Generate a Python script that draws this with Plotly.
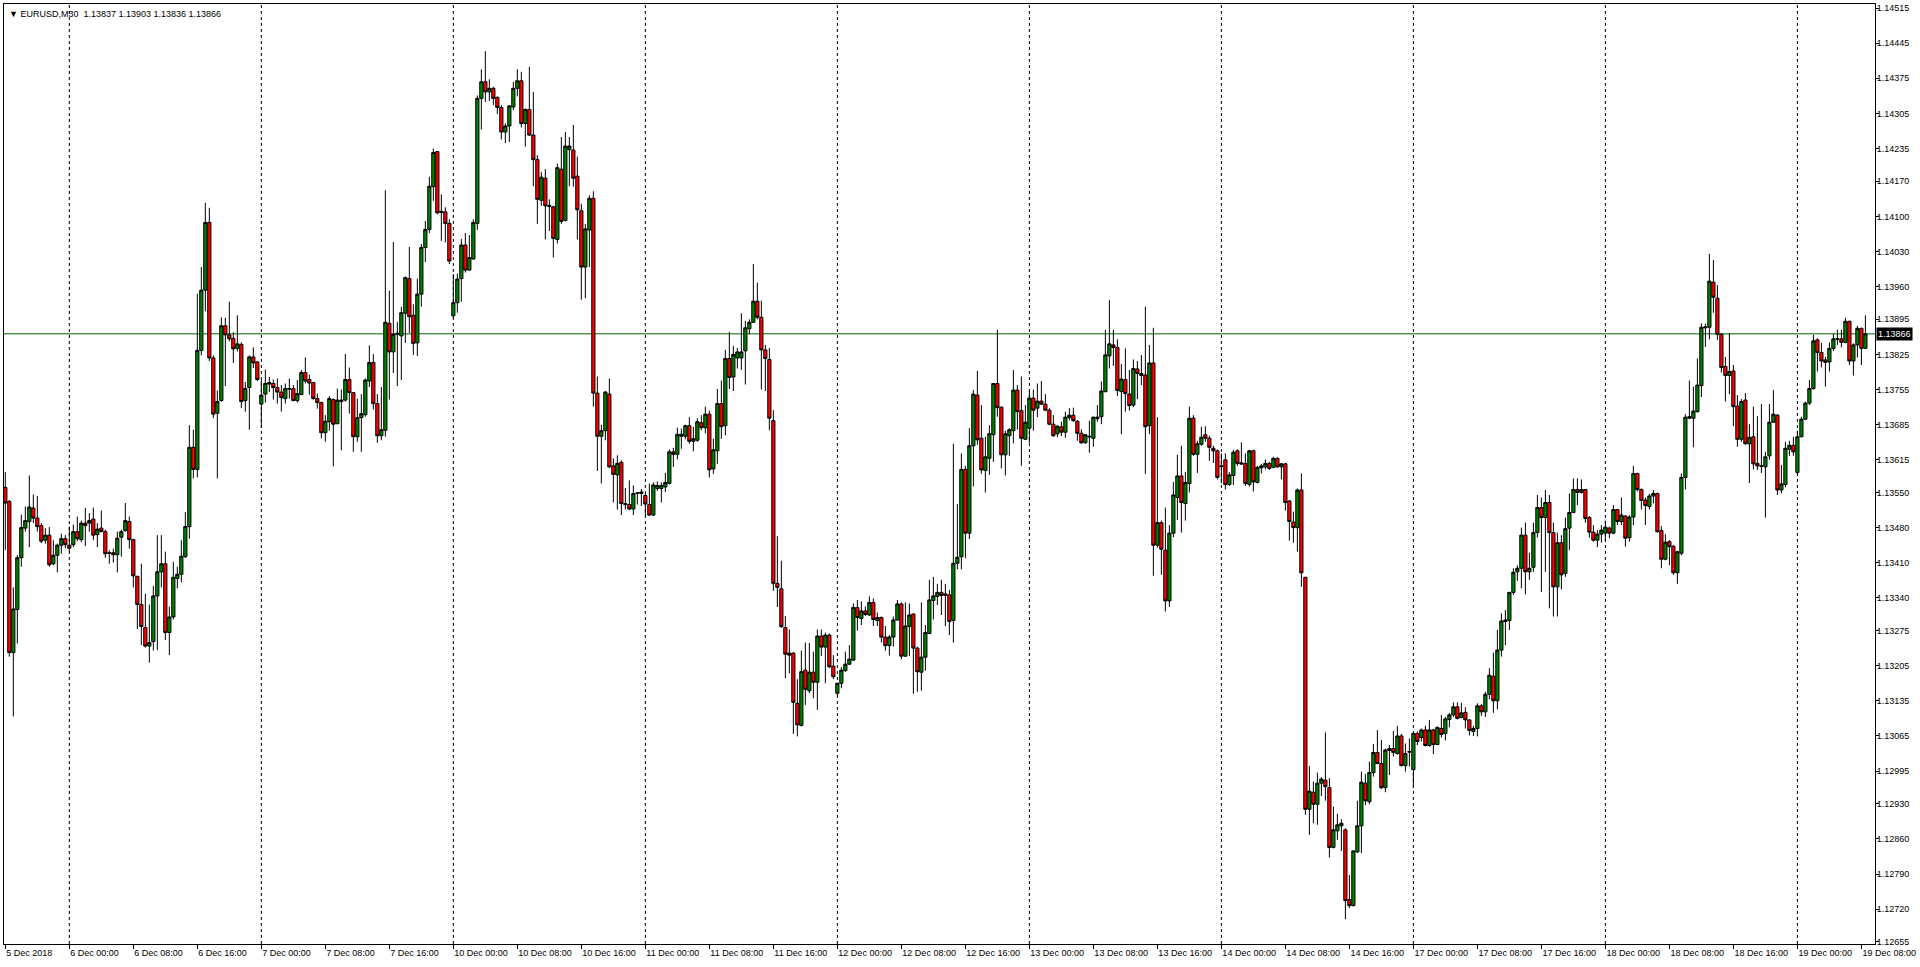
import pandas as pd
import plotly.graph_objects as go

# EURUSD M30, 5 Dec 2018 16:00 .. 19 Dec 2018 08:30 (broker time, no weekend bars)
symbol = "EURUSD,M30"
trading_days = ["2018-12-05", "2018-12-06", "2018-12-07", "2018-12-10", "2018-12-11", "2018-12-12",
                "2018-12-13", "2018-12-14", "2018-12-17", "2018-12-18", "2018-12-19"]
first_bar = "2018-12-05 16:00"

# prices in points (1 point = 0.00001)
open_pts = [
    113560, 113532, 113231, 113317, 113420, 113479, 113492, 113519, 113499, 113484,
    113455, 113465, 113408, 113425, 113445, 113458, 113445, 113446, 113472, 113456,
    113489, 113489, 113497, 113466, 113479, 113472, 113430, 113430, 113426, 113461,
    113474, 113492, 113456, 113383, 113327, 113281, 113244, 113253, 113344, 113392,
    113408, 113271, 113302, 113379, 113387, 113422, 113482, 113640, 113596, 113833,
    113953, 114088, 113818, 113708, 113733, 113882, 113864, 113857, 113837, 113845,
    113733, 113759, 113820, 113810, 113726, 113746, 113766, 113767, 113759, 113750,
    113737, 113757, 113757, 113733, 113745, 113789, 113775, 113769, 113737, 113729,
    113669, 113691, 113735, 113687, 113731, 113734, 113775, 113749, 113661, 113699,
    113705, 113772, 113809, 113727, 113663, 113674, 113887, 113830, 113865, 113862,
    113907, 113976, 113903, 113848, 113945, 114038, 114074, 114159, 114229, 114110,
    114109, 114086, 113902, 113928, 113976, 114043, 113993, 114015, 114086, 114335,
    114368, 114348, 114355, 114337, 114317, 114268, 114280, 114318, 114355, 114370,
    114285, 114313, 114262, 114213, 114132, 114176, 114122, 114119, 114054, 114194,
    114092, 114233, 114232, 114180, 114111, 113999, 114073, 114136, 113748, 113662,
    113673, 113746, 113603, 113585, 113610, 113528, 113526, 113517, 113548, 113548,
    113544, 113526, 113505, 113558, 113558, 113561, 113568, 113631, 113626, 113662,
    113662, 113683, 113652, 113654, 113689, 113679, 113706, 113597, 113633, 113727,
    113683, 113817, 113780, 113818, 113818, 113832, 113876, 113889, 113931, 113899,
    113834, 113815, 113693, 113369, 113358, 113281, 113230, 113230, 113130, 113086,
    113196, 113155, 113192, 113172, 113264, 113242, 113266, 113204, 113150, 113170,
    113195, 113208, 113216, 113321, 113299, 113314, 113306, 113331, 113295, 113301,
    113262, 113245, 113262, 113296, 113328, 113224, 113283, 113308, 113240, 113192,
    113222, 113269, 113335, 113343, 113351, 113348, 113346, 113295, 113409, 113422,
    113596, 113469, 113643, 113744, 113658, 113594, 113618, 113665, 113767, 113720,
    113625, 113663, 113673, 113754, 113713, 113656, 113678, 113738, 113718, 113732,
    113726, 113714, 113686, 113667, 113681, 113670, 113699, 113704, 113692, 113668,
    113649, 113662, 113658, 113697, 113701, 113751, 113822, 113844, 113839, 113751,
    113775, 113746, 113724, 113796, 113787, 113784, 113683, 113808, 113445, 113490,
    113435, 113334, 113469, 113540, 113583, 113528, 113568, 113698, 113626, 113646,
    113665, 113658, 113638, 113633, 113603, 113615, 113566, 113584, 113633, 113609,
    113608, 113566, 113633, 113570, 113599, 113601, 113608, 113600, 113618, 113601,
    113607, 113533, 113491, 113480, 113555, 113381, 112919, 112953, 112929, 112971,
    112977, 112962, 112843, 112876, 112886, 112878, 112739, 112727, 112834, 112886,
    112971, 112934, 112992, 113032, 113010, 112962, 113036, 113040, 113030, 113065,
    113006, 113034, 112998, 113070, 113062, 113077, 113046, 113077, 113048, 113080,
    113070, 113098, 113107, 113123, 113102, 113112, 113097, 113074, 113080, 113125,
    113113, 113148, 113184, 113135, 113236, 113293, 113295, 113351, 113392, 113399,
    113465, 113392, 113401, 113470, 113520, 113500, 113530, 113470, 113362, 113450,
    113389, 113479, 113510, 113556, 113550, 113556, 113500, 113471, 113455, 113467,
    113469, 113479, 113469, 113516, 113492, 113503, 113460, 113501, 113588, 113556,
    113535, 113522, 113543, 113548, 113474, 113417, 113452, 113443, 113390, 113429,
    113580, 113701, 113698, 113711, 113763, 113878, 113879, 113969, 113937, 113865,
    113801, 113783, 113792, 113722, 113656, 113734, 113647, 113661, 113608, 113603,
    113601, 113623, 113690, 113704, 113555, 113566, 113636, 113644, 113590, 113661,
    113696, 113728, 113757, 113854, 113829, 113814, 113810, 113837, 113855, 113856,
    113849, 113891, 113812, 113844, 113877, 113837,
]
high_pts = [
    113591, 113535, 113361, 113425, 113506, 113522, 113584, 113546, 113543, 113489,
    113479, 113481, 113455, 113448, 113468, 113465, 113482, 113486, 113502, 113494,
    113519, 113509, 113520, 113489, 113514, 113476, 113435, 113438, 113472, 113476,
    113529, 113502, 113458, 113384, 113408, 113348, 113327, 113364, 113465, 113465,
    113432, 113323, 113412, 113402, 113455, 113511, 113684, 113675, 113946, 113999,
    114127, 114117, 113823, 113753, 113899, 113898, 113930, 113869, 113903, 113849,
    113770, 113823, 113839, 113812, 113775, 113795, 113780, 113775, 113777, 113764,
    113767, 113777, 113764, 113774, 113794, 113819, 113785, 113770, 113747, 113731,
    113704, 113742, 113737, 113757, 113755, 113826, 113799, 113750, 113737, 113746,
    113777, 113843, 113826, 113746, 113760, 114152, 113952, 114049, 113890, 113920,
    113980, 114039, 113925, 113976, 114045, 114091, 114179, 114235, 114230, 114144,
    114118, 114094, 113985, 113986, 114055, 114067, 114063, 114094, 114341, 114393,
    114429, 114373, 114358, 114339, 114322, 114285, 114322, 114368, 114393, 114388,
    114315, 114398, 114348, 114222, 114188, 114194, 114134, 114121, 114205, 114258,
    114268, 114258, 114282, 114219, 114125, 114085, 114142, 114150, 113781, 113685,
    113752, 113777, 113618, 113624, 113614, 113559, 113574, 113564, 113551, 113557,
    113548, 113568, 113570, 113572, 113570, 113589, 113636, 113639, 113679, 113677,
    113685, 113700, 113681, 113698, 113704, 113721, 113713, 113657, 113756, 113773,
    113834, 113870, 113842, 113838, 113907, 113892, 113895, 114005, 113968, 113932,
    113844, 113838, 113714, 113463, 113414, 113304, 113277, 113232, 113178, 113235,
    113251, 113250, 113233, 113277, 113277, 113271, 113269, 113226, 113171, 113202,
    113233, 113246, 113329, 113336, 113333, 113323, 113343, 113339, 113311, 113303,
    113284, 113266, 113303, 113336, 113331, 113331, 113329, 113309, 113243, 113331,
    113286, 113376, 113382, 113368, 113376, 113368, 113356, 113647, 113527, 113628,
    113603, 113678, 113754, 113792, 113724, 113661, 113684, 113768, 113874, 113721,
    113673, 113678, 113794, 113764, 113781, 113724, 113752, 113755, 113767, 113772,
    113746, 113718, 113704, 113684, 113691, 113711, 113718, 113719, 113694, 113676,
    113666, 113693, 113701, 113724, 113771, 113874, 113933, 113874, 113855, 113806,
    113837, 113794, 113815, 113812, 113824, 113920, 113844, 113878, 113700, 113494,
    113520, 113485, 113571, 113625, 113643, 113591, 113721, 113704, 113653, 113681,
    113682, 113663, 113643, 113636, 113628, 113628, 113591, 113635, 113636, 113650,
    113628, 113635, 113635, 113603, 113607, 113616, 113611, 113621, 113620, 113609,
    113609, 113535, 113512, 113558, 113588, 113382, 113005, 112974, 112992, 112983,
    113072, 112981, 112924, 112910, 112899, 112881, 112788, 112837, 112936, 112994,
    112989, 113014, 113049, 113077, 113057, 113040, 113047, 113075, 113085, 113069,
    113050, 113060, 113072, 113074, 113080, 113085, 113097, 113079, 113084, 113107,
    113103, 113111, 113132, 113132, 113131, 113122, 113098, 113085, 113130, 113129,
    113153, 113200, 113231, 113276, 113309, 113316, 113352, 113399, 113405, 113480,
    113490, 113430, 113490, 113545, 113540, 113555, 113545, 113490, 113470, 113465,
    113500, 113548, 113578, 113578, 113576, 113557, 113503, 113485, 113475, 113485,
    113494, 113482, 113525, 113517, 113540, 113505, 113505, 113603, 113589, 113558,
    113540, 113547, 113555, 113550, 113483, 113467, 113455, 113445, 113434, 113588,
    113706, 113773, 113761, 113817, 113887, 113886, 114025, 114013, 113963, 113867,
    113820, 113867, 113804, 113744, 113736, 113748, 113686, 113721, 113702, 113726,
    113631, 113726, 113754, 113706, 113605, 113651, 113653, 113661, 113673, 113701,
    113731, 113774, 113864, 113857, 113848, 113820, 113849, 113866, 113874, 113874,
    113898, 113892, 113847, 113882, 113878, 113903,
]
low_pts = [
    113435, 113223, 113104, 113249, 113402, 113472, 113441, 113489, 113472, 113449,
    113448, 113402, 113405, 113391, 113428, 113439, 113432, 113441, 113453, 113451,
    113443, 113472, 113455, 113441, 113471, 113420, 113408, 113410, 113391, 113422,
    113472, 113438, 113361, 113278, 113246, 113241, 113211, 113235, 113236, 113361,
    113256, 113226, 113297, 113359, 113371, 113420, 113458, 113578, 113580, 113823,
    113911, 113812, 113698, 113578, 113731, 113762, 113851, 113808, 113831, 113718,
    113711, 113675, 113798, 113772, 113679, 113729, 113750, 113735, 113727, 113711,
    113727, 113737, 113732, 113729, 113744, 113767, 113745, 113735, 113717, 113658,
    113651, 113673, 113602, 113686, 113634, 113731, 113707, 113631, 113651, 113631,
    113701, 113760, 113715, 113649, 113654, 113661, 113735, 113788, 113762, 113774,
    113848, 113868, 113824, 113822, 113920, 114009, 114067, 114131, 114104, 114051,
    114048, 114005, 113897, 113908, 113930, 113988, 113992, 114014, 114073, 114273,
    114328, 114330, 114322, 114304, 114253, 114246, 114248, 114312, 114339, 114277,
    114239, 114260, 114160, 114085, 114121, 114054, 114071, 114018, 114046, 114085,
    114090, 114160, 114159, 114054, 113934, 113937, 113999, 113721, 113593, 113568,
    113654, 113599, 113530, 113516, 113505, 113516, 113515, 113505, 113526, 113523,
    113503, 113503, 113503, 113553, 113530, 113551, 113566, 113601, 113616, 113637,
    113656, 113647, 113632, 113651, 113674, 113668, 113580, 113587, 113607, 113657,
    113664, 113756, 113752, 113797, 113794, 113765, 113865, 113888, 113895, 113755,
    113752, 113674, 113354, 113322, 113280, 113180, 113190, 113069, 113064, 113084,
    113127, 113150, 113140, 113117, 113224, 113170, 113200, 113178, 113143, 113160,
    113193, 113206, 113215, 113275, 113286, 113304, 113304, 113284, 113284, 113251,
    113235, 113225, 113243, 113295, 113218, 113223, 113224, 113149, 113153, 113155,
    113195, 113268, 113297, 113326, 113306, 113284, 113266, 113251, 113397, 113397,
    113419, 113457, 113562, 113645, 113587, 113550, 113585, 113611, 113701, 113598,
    113584, 113623, 113648, 113675, 113603, 113655, 113649, 113673, 113700, 113724,
    113712, 113684, 113661, 113660, 113662, 113659, 113694, 113691, 113653, 113647,
    113647, 113629, 113641, 113691, 113686, 113749, 113797, 113802, 113742, 113666,
    113711, 113713, 113720, 113736, 113764, 113587, 113666, 113384, 113440, 113386,
    113313, 113322, 113461, 113495, 113470, 113494, 113550, 113623, 113589, 113643,
    113651, 113613, 113609, 113576, 113568, 113556, 113563, 113565, 113603, 113605,
    113563, 113562, 113552, 113568, 113588, 113596, 113595, 113598, 113599, 113576,
    113514, 113454, 113450, 113432, 113362, 112908, 112868, 112891, 112888, 112945,
    112936, 112823, 112841, 112858, 112836, 112700, 112722, 112726, 112832, 112832,
    112927, 112929, 112984, 113009, 112959, 112953, 112987, 113024, 113028, 113004,
    112994, 113004, 112964, 113047, 113054, 113044, 113044, 113029, 113047, 113062,
    113056, 113082, 113103, 113098, 113100, 113080, 113066, 113065, 113064, 113105,
    113103, 113138, 113111, 113118, 113223, 113246, 113276, 113346, 113374, 113359,
    113347, 113376, 113392, 113460, 113352, 113392, 113319, 113303, 113303, 113357,
    113382, 113435, 113509, 113525, 113548, 113490, 113460, 113452, 113441, 113450,
    113453, 113459, 113467, 113485, 113485, 113442, 113452, 113485, 113552, 113516,
    113485, 113516, 113528, 113470, 113399, 113415, 113405, 113386, 113368, 113425,
    113556, 113696, 113640, 113709, 113740, 113840, 113855, 113908, 113854, 113789,
    113731, 113746, 113682, 113641, 113651, 113645, 113569, 113596, 113595, 113589,
    113500, 113615, 113689, 113545, 113548, 113560, 113623, 113623, 113585, 113660,
    113694, 113724, 113755, 113791, 113799, 113761, 113791, 113832, 113844, 113839,
    113847, 113804, 113783, 113819, 113804, 113836,
]
close_pts = [
    113529, 113231, 113318, 113420, 113480, 113494, 113521, 113499, 113482, 113453,
    113465, 113406, 113425, 113445, 113458, 113446, 113439, 113472, 113458, 113489,
    113484, 113494, 113465, 113477, 113472, 113428, 113429, 113426, 113459, 113472,
    113494, 113456, 113384, 113327, 113283, 113244, 113251, 113344, 113392, 113408,
    113271, 113302, 113381, 113387, 113423, 113482, 113640, 113596, 113833, 113953,
    114088, 113818, 113706, 113731, 113882, 113864, 113856, 113836, 113846, 113731,
    113757, 113820, 113808, 113775, 113744, 113767, 113769, 113759, 113750, 113739,
    113757, 113756, 113733, 113747, 113789, 113772, 113768, 113737, 113729, 113669,
    113692, 113737, 113686, 113734, 113734, 113775, 113749, 113661, 113699, 113707,
    113774, 113809, 113727, 113663, 113675, 113889, 113830, 113865, 113867, 113908,
    113978, 113900, 113847, 113945, 114038, 114074, 114160, 114227, 114107, 114108,
    114086, 114011, 113928, 113975, 114043, 113993, 114018, 114088, 114335, 114368,
    114348, 114355, 114335, 114317, 114268, 114280, 114320, 114355, 114370, 114285,
    114313, 114262, 114213, 114134, 114178, 114121, 114120, 114056, 114197, 114090,
    114240, 114240, 114176, 114113, 113999, 114075, 114136, 113748, 113662, 113673,
    113750, 113601, 113586, 113608, 113528, 113526, 113517, 113548, 113549, 113551,
    113527, 113505, 113565, 113564, 113564, 113570, 113631, 113626, 113666, 113666,
    113683, 113652, 113657, 113691, 113679, 113706, 113595, 113635, 113727, 113681,
    113817, 113779, 113825, 113830, 113830, 113878, 113889, 113931, 113899, 113834,
    113817, 113698, 113369, 113361, 113283, 113228, 113226, 113132, 113087, 113193,
    113158, 113192, 113172, 113264, 113242, 113266, 113203, 113183, 113170, 113196,
    113208, 113218, 113321, 113301, 113314, 113307, 113331, 113297, 113301, 113262,
    113245, 113262, 113296, 113328, 113224, 113284, 113306, 113240, 113193, 113222,
    113271, 113336, 113344, 113351, 113345, 113345, 113293, 113409, 113421, 113596,
    113469, 113643, 113746, 113655, 113595, 113621, 113667, 113767, 113719, 113625,
    113667, 113675, 113754, 113711, 113658, 113690, 113738, 113714, 113732, 113726,
    113714, 113686, 113663, 113682, 113670, 113700, 113704, 113693, 113668, 113649,
    113665, 113661, 113700, 113700, 113752, 113824, 113846, 113839, 113753, 113776,
    113747, 113723, 113797, 113787, 113783, 113681, 113808, 113445, 113490, 113437,
    113334, 113469, 113545, 113583, 113530, 113570, 113698, 113626, 113647, 113660,
    113658, 113640, 113633, 113580, 113602, 113566, 113585, 113630, 113608, 113607,
    113568, 113633, 113571, 113600, 113603, 113608, 113598, 113618, 113601, 113607,
    113530, 113492, 113480, 113555, 113390, 112919, 112955, 112929, 112971, 112979,
    112964, 112843, 112878, 112888, 112891, 112737, 112727, 112836, 112886, 112973,
    112936, 112992, 113032, 113010, 112962, 113037, 113040, 113032, 113065, 113006,
    113030, 113033, 113070, 113054, 113077, 113046, 113077, 113048, 113082, 113068,
    113099, 113107, 113123, 113100, 113111, 113097, 113076, 113080, 113125, 113113,
    113148, 113186, 113135, 113236, 113294, 113296, 113351, 113391, 113399, 113465,
    113392, 113399, 113470, 113520, 113500, 113530, 113470, 113362, 113450, 113386,
    113478, 113510, 113556, 113550, 113556, 113498, 113471, 113455, 113467, 113475,
    113481, 113469, 113516, 113492, 113505, 113459, 113501, 113588, 113556, 113534,
    113524, 113543, 113548, 113472, 113417, 113451, 113442, 113390, 113432, 113580,
    113700, 113698, 113712, 113764, 113879, 113880, 113971, 113939, 113865, 113799,
    113783, 113791, 113721, 113656, 113731, 113647, 113660, 113607, 113603, 113602,
    113621, 113690, 113706, 113555, 113567, 113638, 113644, 113631, 113661, 113696,
    113728, 113757, 113852, 113829, 113812, 113809, 113837, 113856, 113856, 113849,
    113891, 113812, 113844, 113877, 113837, 113866,
]

price_ticks = [1.14515, 1.14445, 1.14375, 1.14305, 1.14235, 1.14170, 1.14100, 1.14030,
               1.13960, 1.13895, 1.13825, 1.13755, 1.13685, 1.13615, 1.13550, 1.13480,
               1.13410, 1.13340, 1.13275, 1.13205, 1.13135, 1.13065, 1.12995, 1.12930,
               1.12860, 1.12790, 1.12720, 1.12655]

o = [v / 1e5 for v in open_pts]
h = [v / 1e5 for v in high_pts]
l = [v / 1e5 for v in low_pts]
c = [v / 1e5 for v in close_pts]

# bar times -> index axis (MT4 draws bars evenly, no gaps)
times = [t for d in trading_days for t in pd.date_range(d, periods=48, freq="30min")]
times = [t for t in times if t >= pd.Timestamp(first_bar)][:len(c)]
idx = list(range(len(c)))

tick_pos = [i for i, t in enumerate(times) if t.hour % 8 == 0 and t.minute == 0]
tick_text = [f"{times[i].day} {times[i]:%b %Y}" if k == 0 else f"{times[i].day} {times[i]:%b %H:%M}"
             for k, i in enumerate(tick_pos)]
day_starts = [i for i, t in enumerate(times) if t.hour == 0 and t.minute == 0]

font = dict(family="Liberation Sans, Arial, sans-serif", size=9, color="black")

fig = go.Figure()
fig.add_trace(
    go.Candlestick(
        x=idx, open=o, high=h, low=l, close=c,
        increasing=dict(line=dict(color="black", width=1), fillcolor="#008000"),
        decreasing=dict(line=dict(color="black", width=1), fillcolor="#ff0000"),
        whiskerwidth=0,
        hoverinfo="skip",
    )
)

# day separators
for i in day_starts:
    fig.add_shape(type="line", xref="x", yref="paper", x0=i, x1=i, y0=0, y1=1,
                  line=dict(color="black", width=1, dash="3px,3px"), layer="below")

# last price line
fig.add_shape(type="line", xref="paper", yref="y", x0=0, x1=1, y0=c[-1], y1=c[-1],
              line=dict(color="#006400", width=1), layer="below")

fig.add_annotation(xref="paper", yref="y", x=1, y=c[-1], xanchor="left", yanchor="middle",
                   text=f"{c[-1]:.5f}", showarrow=False, bgcolor="black",
                   font=dict(family=font["family"], size=9, color="white"), borderpad=1, xshift=1)

fig.add_annotation(xref="paper", yref="paper", x=0, y=1, xanchor="left", yanchor="top",
                   text=f"\u25BC {symbol}  {o[-1]:.5f} {h[-1]:.5f} {l[-1]:.5f} {c[-1]:.5f}",
                   showarrow=False, font=font, xshift=3, yshift=-3)

fig.update_layout(
    width=1920, height=967,
    margin=dict(l=4, r=45, t=4, b=23),
    paper_bgcolor="white", plot_bgcolor="white",
    showlegend=False, hovermode=False,
    boxgap=0.2, boxgroupgap=0,
    font=font,
    xaxis=dict(
        range=[-0.33, 467.4], tickmode="array", tickvals=tick_pos, ticktext=tick_text,
        ticks="outside", ticklen=4, tickcolor="black", ticklabelposition="outside right",
        showgrid=False, zeroline=False, showline=True, mirror=True, linecolor="black",
        linewidth=1, rangeslider=dict(visible=False), tickfont=font, tickangle=0,
    ),
    yaxis=dict(
        side="right", range=[1.126506, 1.14523], tickmode="array", tickvals=price_ticks,
        ticktext=[f"{v:.5f}" for v in price_ticks], ticks="outside", ticklen=3,
        tickcolor="black", showgrid=False, zeroline=False, showline=True, mirror=True,
        linecolor="black", linewidth=1, tickfont=font, ticklabelstandoff=-4,
    ),
)

# page body margin would shift the 1920 px figure, so drop it
fig.write_html(
    "out.html",
    config={"displayModeBar": False},
    post_script="document.body.style.margin='0';document.body.style.overflow='hidden';",
)
